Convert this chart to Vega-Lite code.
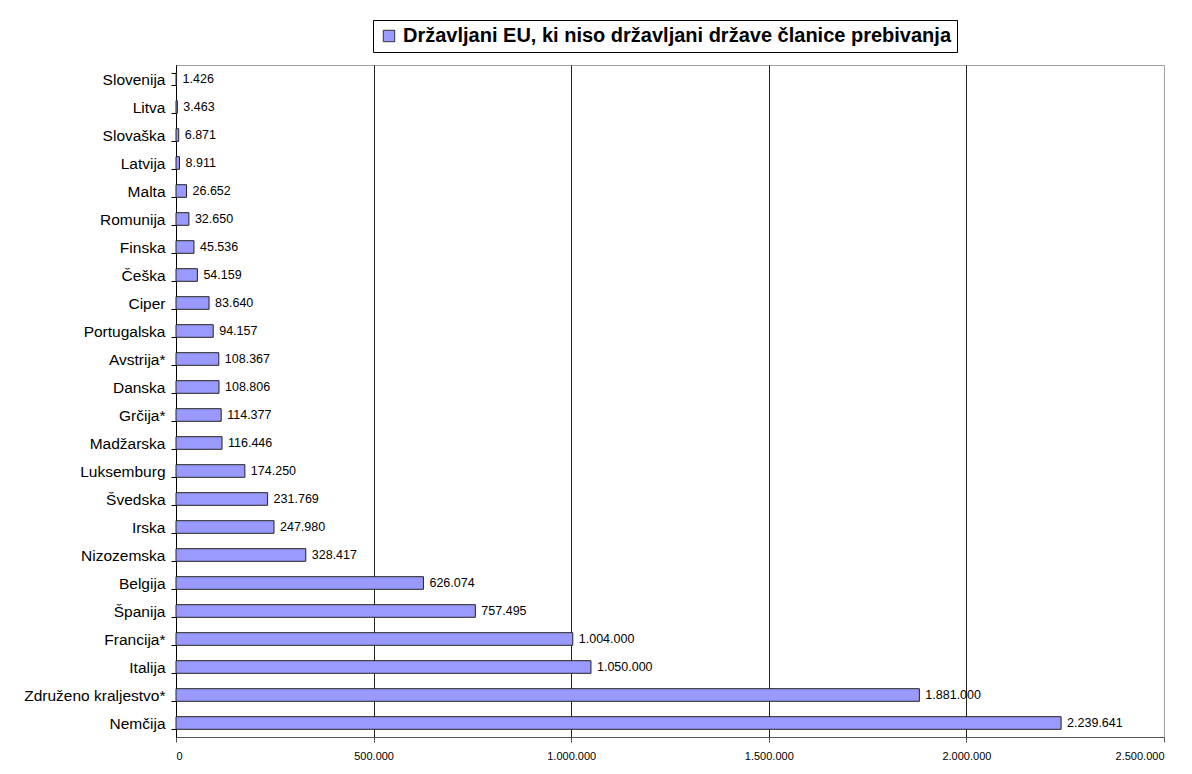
{
  "$schema": "https://vega.github.io/schema/vega-lite/v6.json",
  "width": 988,
  "height": 672,
  "autosize": {"type": "none"},
  "padding": {"left": 176, "top": 65, "right": 28, "bottom": 37},
  "background": "white",
  "config": {
    "locale": {"number": {"decimal": ",", "thousands": ".", "grouping": [3], "currency": ["", ""]}},
    "font": "Liberation Sans",
    "view": {"stroke": "#a0a0a0", "strokeWidth": 1}
  },
  "data": {
    "values": [
      {"drzava": "Slovenija", "vrednost": 1426, "serija": "Državljani EU, ki niso državljani države članice prebivanja"},
      {"drzava": "Litva", "vrednost": 3463, "serija": "Državljani EU, ki niso državljani države članice prebivanja"},
      {"drzava": "Slovaška", "vrednost": 6871, "serija": "Državljani EU, ki niso državljani države članice prebivanja"},
      {"drzava": "Latvija", "vrednost": 8911, "serija": "Državljani EU, ki niso državljani države članice prebivanja"},
      {"drzava": "Malta", "vrednost": 26652, "serija": "Državljani EU, ki niso državljani države članice prebivanja"},
      {"drzava": "Romunija", "vrednost": 32650, "serija": "Državljani EU, ki niso državljani države članice prebivanja"},
      {"drzava": "Finska", "vrednost": 45536, "serija": "Državljani EU, ki niso državljani države članice prebivanja"},
      {"drzava": "Češka", "vrednost": 54159, "serija": "Državljani EU, ki niso državljani države članice prebivanja"},
      {"drzava": "Ciper", "vrednost": 83640, "serija": "Državljani EU, ki niso državljani države članice prebivanja"},
      {"drzava": "Portugalska", "vrednost": 94157, "serija": "Državljani EU, ki niso državljani države članice prebivanja"},
      {"drzava": "Avstrija*", "vrednost": 108367, "serija": "Državljani EU, ki niso državljani države članice prebivanja"},
      {"drzava": "Danska", "vrednost": 108806, "serija": "Državljani EU, ki niso državljani države članice prebivanja"},
      {"drzava": "Grčija*", "vrednost": 114377, "serija": "Državljani EU, ki niso državljani države članice prebivanja"},
      {"drzava": "Madžarska", "vrednost": 116446, "serija": "Državljani EU, ki niso državljani države članice prebivanja"},
      {"drzava": "Luksemburg", "vrednost": 174250, "serija": "Državljani EU, ki niso državljani države članice prebivanja"},
      {"drzava": "Švedska", "vrednost": 231769, "serija": "Državljani EU, ki niso državljani države članice prebivanja"},
      {"drzava": "Irska", "vrednost": 247980, "serija": "Državljani EU, ki niso državljani države članice prebivanja"},
      {"drzava": "Nizozemska", "vrednost": 328417, "serija": "Državljani EU, ki niso državljani države članice prebivanja"},
      {"drzava": "Belgija", "vrednost": 626074, "serija": "Državljani EU, ki niso državljani države članice prebivanja"},
      {"drzava": "Španija", "vrednost": 757495, "serija": "Državljani EU, ki niso državljani države članice prebivanja"},
      {"drzava": "Francija*", "vrednost": 1004000, "serija": "Državljani EU, ki niso državljani države članice prebivanja"},
      {"drzava": "Italija", "vrednost": 1050000, "serija": "Državljani EU, ki niso državljani države članice prebivanja"},
      {"drzava": "Združeno kraljestvo*", "vrednost": 1881000, "serija": "Državljani EU, ki niso državljani države članice prebivanja"},
      {"drzava": "Nemčija", "vrednost": 2239641, "serija": "Državljani EU, ki niso državljani države članice prebivanja"}
    ]
  },
  "encoding": {
    "y": {
      "field": "drzava",
      "type": "nominal",
      "sort": {"field": "vrednost", "order": "ascending"},
      "scale": {"paddingInner": 0.55, "paddingOuter": 0.275},
      "axis": {
        "title": null,
        "ticks": true,
        "tickBand": "extent",
        "domain": true,
        "domainColor": "black",
        "domainWidth": 1,
        "tickColor": "black",
        "tickWidth": 1,
        "tickSize": 5,
        "labelFontSize": 15.5,
        "labelColor": "black",
        "labelPadding": 6,
        "labelFont": "Liberation Sans",
        "grid": false
      }
    },
    "x": {
      "field": "vrednost",
      "type": "quantitative",
      "scale": {"domain": [0, 2500000], "nice": false},
      "axis": {
        "title": null,
        "values": [0, 500000, 1000000, 1500000, 2000000, 2500000],
        "format": ",d",
        "domainColor": "#555555",
        "tickColor": "#555555",
        "domainWidth": 1,
        "tickSize": 5,
        "labelFontSize": 11,
        "labelColor": "black",
        "labelPadding": 8,
        "labelFont": "Liberation Sans",
        "grid": true,
        "gridColor": {"condition": {"test": "datum.value >= 2500000", "value": "#a0a0a0"}, "value": "#222222"},
        "gridWidth": 1
      }
    }
  },
  "layer": [
    {
      "mark": {"type": "bar", "stroke": "#222222", "strokeWidth": 1},
      "encoding": {
        "color": {
          "field": "serija",
          "type": "nominal",
          "scale": {"range": ["#9999FF"]},
          "legend": {
            "title": null,
            "orient": "none",
            "legendX": 197,
            "legendY": -45,
            "strokeColor": "black",
            "fillColor": "white",
            "padding": 6,
            "symbolType": "square",
            "symbolSize": 130,
            "symbolStrokeColor": "#333333",
            "symbolStrokeWidth": 1,
            "labelFontSize": 20,
            "labelFontWeight": "bold",
            "labelColor": "black",
            "labelFont": "Liberation Sans",
            "labelLimit": 900
          }
        }
      }
    },
    {
      "mark": {"type": "text", "align": "left", "baseline": "middle", "dx": 6, "fontSize": 12.5, "font": "Liberation Sans", "color": "black"},
      "encoding": {
        "text": {"field": "vrednost", "type": "quantitative", "format": ",d"}
      }
    }
  ]
}
